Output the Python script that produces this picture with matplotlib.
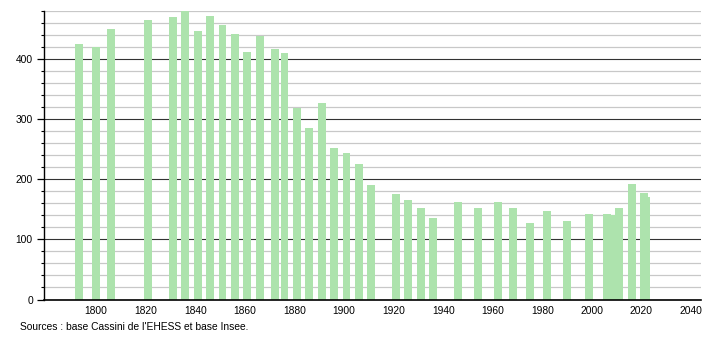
import matplotlib
matplotlib.use("Agg")
import matplotlib.pyplot as plt
from matplotlib.ticker import MultipleLocator

# Recensements (années et population)
annees = [1793, 1800, 1806, 1821, 1831, 1836, 1841, 1846, 1851, 1856,
          1861, 1866, 1872, 1876, 1881, 1886, 1891, 1896, 1901, 1906,
          1911, 1921, 1926, 1931, 1936, 1946, 1954, 1962, 1968, 1975,
          1982, 1990, 1999, 2006, 2008, 2011, 2016, 2021, 2022]
population = [425, 421, 450, 465, 470, 480, 447, 472, 457, 442,
              412, 438, 417, 410, 318, 285, 327, 252, 243, 225,
              190, 175, 165, 152, 135, 162, 152, 162, 152, 128,
              147, 130, 143, 142, 140, 153, 192, 178, 171]

x_ticks = list(range(1800, 2041, 20))
source = "Sources : base Cassini de l'EHESS et base Insee."

plt.rcParams['font.family'] = ['Liberation Sans', 'DejaVu Sans']

fig = plt.figure(figsize=(7.1, 3.4), dpi=100)
ax = fig.add_axes([44/710, 40.5/340, 657/710, 289/340])

# Grille
ax.yaxis.set_major_locator(MultipleLocator(100))
ax.yaxis.set_minor_locator(MultipleLocator(20))
ax.grid(which='minor', axis='y', color='#c8c8c8', linewidth=0.9)
ax.grid(which='major', axis='y', color='#333333', linewidth=0.8)
ax.set_axisbelow(True)

ax.bar(annees, population, width=3.2, color='#ade3ad', zorder=2)

ax.set_xlim(1779, 2044)
ax.set_ylim(0, 481)
ax.set_xticks(x_ticks)

for s in ['top', 'right']:
    ax.spines[s].set_visible(False)
ax.spines['left'].set_color('black')
ax.spines['bottom'].set_color('black')
ax.spines['left'].set_linewidth(1.0)
ax.spines['bottom'].set_linewidth(1.2)

ax.tick_params(axis='x', length=0, pad=5, labelsize=7.4)
ax.tick_params(axis='y', which='major', length=5, width=0.9, pad=3, labelsize=7.4)
ax.tick_params(axis='y', which='minor', length=2.5, width=0.8)

fig.text(20/710, 1 - 327/340, source, fontsize=7.4, va='center', ha='left')

fig.savefig("out.png", dpi=100)
